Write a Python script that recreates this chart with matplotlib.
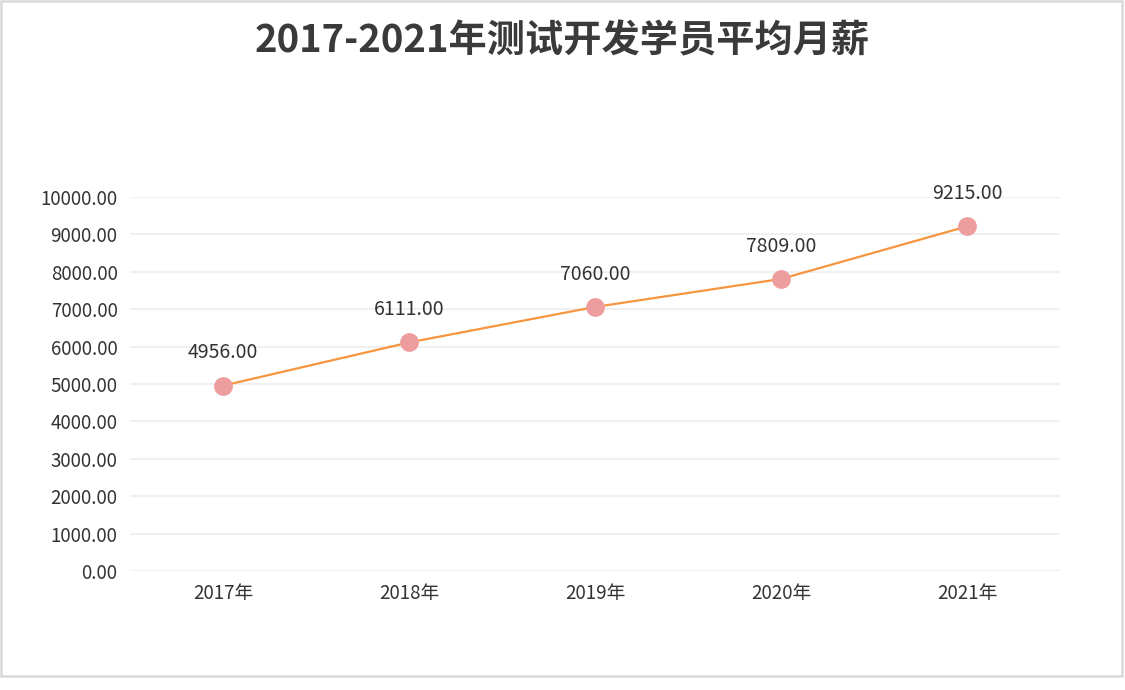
import matplotlib
matplotlib.use("Agg")
import matplotlib.pyplot as plt
from matplotlib.patches import Rectangle

plt.rcParams['font.family'] = ['Noto Sans CJK SC', 'DejaVu Sans']

years = ['2017年', '2018年', '2019年', '2020年', '2021年']
salary = [4956, 6111, 7060, 7809, 9215]
yticks = [0, 1000, 2000, 3000, 4000, 5000, 6000, 7000, 8000, 9000, 10000]
title = '2017-2021年测试开发学员平均月薪'

W, H = 1125, 690
fig = plt.figure(figsize=(W / 100, H / 100), dpi=100)
fig.patch.set_facecolor('white')

# outer border
fig.patches.append(Rectangle((1 / W, (H - 676) / H), 1121 / W, 675 / H,
                             transform=fig.transFigure, fill=False,
                             edgecolor='#d9d9d9', linewidth=1.8))

left, right = 130 / W, 1060 / W
bottom, top = (H - 571) / H, (H - 197) / H
ax = fig.add_axes([left, bottom, right - left, top - bottom])

x = list(range(len(years)))
ax.plot(x, salary, color='#F7953F', linewidth=1.6, zorder=3)
ax.plot(x, salary, linestyle='none', marker='o', markersize=12.5,
        markerfacecolor='#EE9D9F', markeredgecolor='#EE9D9F', zorder=4)

for xi, v in zip(x, salary):
    ax.annotate(f'{v:.2f}', (xi, v), xytext=(0, 16), textcoords='offset points',
                ha='center', va='bottom', fontsize=14, color='#333333')

ax.set_xlim(-0.5, len(years) - 0.5)
ax.set_ylim(0, 10000)
ax.set_yticks(yticks)
ax.set_yticklabels([f'{t:.2f}' for t in yticks])
ax.set_xticks(x)
ax.set_xticklabels(years)
ax.tick_params(axis='both', length=0, labelsize=13.5, labelcolor='#333333')
ax.tick_params(axis='y', pad=9)
ax.tick_params(axis='x', pad=9)
for s in ax.spines.values():
    s.set_visible(False)
ax.grid(axis='y', color='#f0f0f0', linewidth=1.5)
ax.set_axisbelow(True)
ax.set_facecolor('none')

fig.text(562 / W, (H - 41) / H, title, ha='center', va='center',
         fontsize=27.5, fontweight='bold', color='#3a3a3a')

fig.savefig('out.png', dpi=100, facecolor='white')
